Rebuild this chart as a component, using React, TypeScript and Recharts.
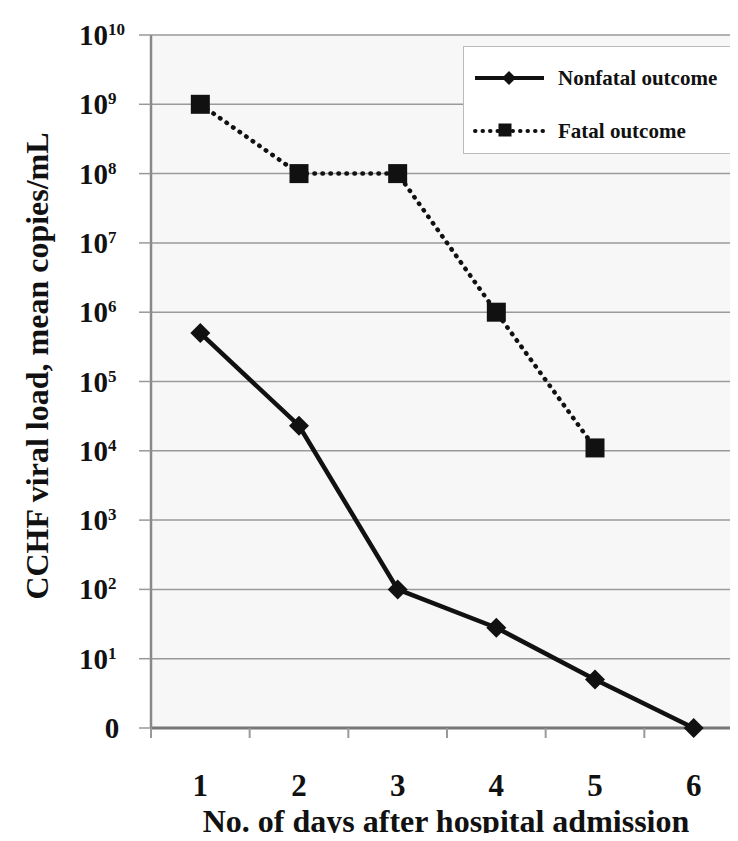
import React from 'react';
import { LineChart, Line, XAxis, YAxis, CartesianGrid } from 'recharts';

const days = [1, 2, 3, 4, 5, 6];
const nonfatalLoad = [500000, 23000, 100, 28, 5, 1];
const fatalLoad: (number | null)[] = [1000000000, 100000000, 100000000, 1000000, 11000, null];
const yTicks = [1, 10, 100, 1000, 10000, 100000, 1000000, 10000000, 100000000, 1000000000, 10000000000];
const xTicks = [0.5, 1, 1.5, 2, 2.5, 3, 3.5, 4, 4.5, 5, 5.5, 6, 6.5];

const data = days.map((day, i) => ({ day, nonfatal: nonfatalLoad[i], fatal: fatalLoad[i] }));

const FONT = '"Liberation Serif", "Times New Roman", serif';
const INK = '#111';

const Diamond = ({ cx, cy, r = 10 }: { cx: number; cy: number; r?: number }) => (
  <polygon points={`${cx},${cy - r} ${cx + r},${cy} ${cx},${cy + r} ${cx - r},${cy}`} fill={INK} />
);

const Square = ({ cx, cy, s = 19 }: { cx: number; cy: number; s?: number }) => (
  <rect x={cx - s / 2} y={cy - s / 2} width={s} height={s} fill={INK} />
);

const YTick = (props: any) => {
  const { y, payload } = props;
  const exp = Math.round(Math.log10(payload.value));
  if (exp === 0) {
    return (
      <text x={112} y={y + 10} textAnchor="middle" fontFamily={FONT} fontWeight="bold" fontSize={29} fill={INK}>
        0
      </text>
    );
  }
  return (
    <text x={79} y={y + 10} fontFamily={FONT} fontWeight="bold" fontSize={29} fill={INK}>
      10
      <tspan fontSize={17} dy={-10}>{exp}</tspan>
    </text>
  );
};

const XTick = (props: any) => {
  const { x, y, payload } = props;
  const v = payload.value;
  if (Number.isInteger(v)) {
    return (
      <text x={x} y={y + 58} textAnchor="middle" fontFamily={FONT} fontWeight="bold" fontSize={31} fill={INK}>
        {v}
      </text>
    );
  }
  return <line x1={x} x2={x} y1={y - 10} y2={y} stroke="#999" strokeWidth={2} />;
};

const LegendBox = () => (
  <div
    style={{
      position: 'absolute', left: 463, top: 46, width: 270, height: 108,
      background: '#fff', border: '1px solid #bbb', boxSizing: 'border-box',
    }}
  >
    <svg width={270} height={108} style={{ display: 'block' }}>
      <line x1={11} x2={80} y1={31} y2={31} stroke={INK} strokeWidth={4} />
      <Diamond cx={45} cy={31} r={7} />
      <text x={94} y={38} fontFamily={FONT} fontWeight="bold" fontSize={21} fill={INK}>Nonfatal outcome</text>
      <line x1={11} x2={80} y1={84} y2={84} stroke={INK} strokeWidth={4} strokeDasharray="0.5 7" strokeLinecap="round" />
      <Square cx={41} cy={83} s={13} />
      <text x={94} y={91} fontFamily={FONT} fontWeight="bold" fontSize={21} fill={INK}>Fatal outcome</text>
    </svg>
  </div>
);

export default function App() {
  return (
    <div style={{ position: 'relative', margin: -8, width: 738, height: 841, overflow: 'hidden', background: '#fff' }}>
      <LineChart width={743} height={841} data={data} margin={{ top: 35, right: 0, bottom: 0, left: 0 }}>
        <CartesianGrid vertical={false} stroke="#9a9a9a" strokeWidth={1.5} fill="#f7f7f7" />
        <XAxis
          dataKey="day"
          type="number"
          domain={[0.5, 6.5]}
          ticks={xTicks}
          interval={0}
          height={113}
          tickLine={false}
          tickSize={10}
          tickMargin={0}
          tick={<XTick />}
          axisLine={{ stroke: '#777', strokeWidth: 3 }}
          label={{
            content: () => (
              <text x={446} y={832} textAnchor="middle" fontFamily={FONT} fontWeight="bold" fontSize={32} fill={INK}>
                No. of days after hospital admission
              </text>
            ),
          }}
        />
        <YAxis
          scale="log"
          domain={[1, 10000000000]}
          ticks={yTicks}
          interval={0}
          width={151}
          tickSize={12}
          tickLine={{ stroke: '#999', strokeWidth: 1.5 }}
          tick={<YTick />}
          axisLine={{ stroke: '#888', strokeWidth: 2.5 }}
          label={{
            content: () => (
              <text
                x={37}
                y={366}
                transform="rotate(-90, 37, 366)"
                textAnchor="middle"
                dominantBaseline="central"
                fontFamily={FONT}
                fontWeight="bold"
                fontSize={32}
                fill={INK}
              >
                CCHF viral load, mean copies/mL
              </text>
            ),
          }}
        />
        <Line
          dataKey="nonfatal"
          stroke={INK}
          strokeWidth={4.5}
          isAnimationActive={false}
          dot={(p: any) => <Diamond key={`n-${p.index}`} cx={p.cx} cy={p.cy} />}
        />
        <Line
          dataKey="fatal"
          stroke={INK}
          strokeWidth={4.5}
          strokeDasharray="0.5 7.5"
          strokeLinecap="round"
          isAnimationActive={false}
          dot={(p: any) =>
            p.cy == null ? <g key={`f-${p.index}`} /> : <Square key={`f-${p.index}`} cx={p.cx} cy={p.cy} />
          }
        />
      </LineChart>
      <LegendBox />
    </div>
  );
}
